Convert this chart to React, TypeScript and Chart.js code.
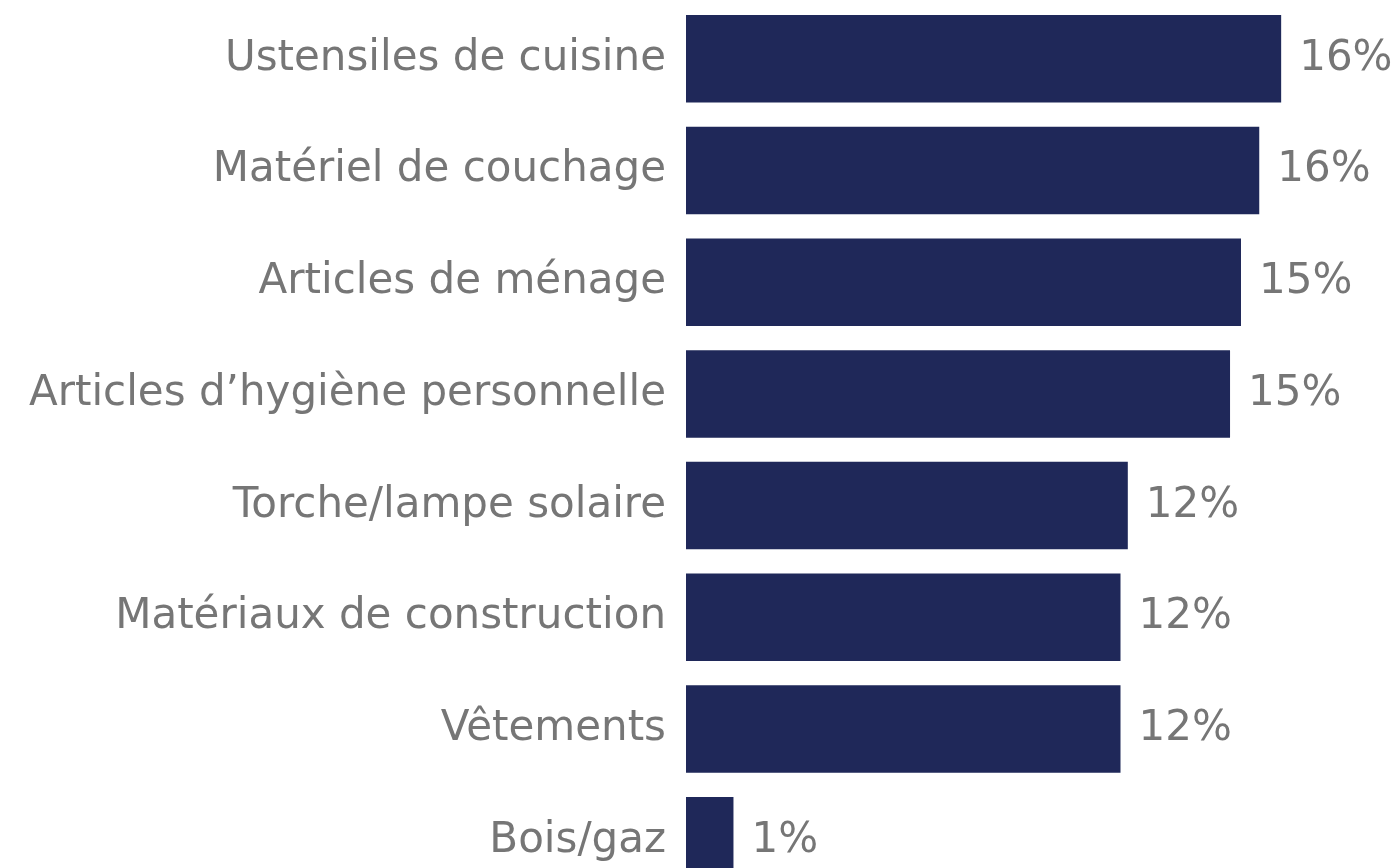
import React, { useEffect, useRef } from "react";
import { Chart, registerables } from "chart.js";

Chart.register(...registerables);

const categories = [
  "Ustensiles de cuisine",
  "Matériel de couchage",
  "Articles de ménage",
  "Articles d’hygiène personnelle",
  "Torche/lampe solaire",
  "Matériaux de construction",
  "Vêtements",
  "Bois/gaz",
];

const values = [16.3, 15.7, 15.2, 14.9, 12.1, 11.9, 11.9, 1.3];

const BAR_COLOR = "#1f2859";
const TEXT_COLOR = "#767676";
const FONT_FAMILY = "'DejaVu Sans', Verdana, sans-serif";
const FONT_SIZE = 42;

const valueLabels = {
  id: "valueLabels",
  afterDatasetsDraw(chart: any) {
    const ctx = chart.ctx;
    const meta = chart.getDatasetMeta(0);
    ctx.save();
    ctx.font = `${FONT_SIZE}px ${FONT_FAMILY}`;
    ctx.fillStyle = TEXT_COLOR;
    ctx.textAlign = "left";
    ctx.textBaseline = "middle";
    meta.data.forEach((bar: any, i: number) => {
      const v = chart.data.datasets[0].data[i] as number;
      ctx.fillText(`${Math.round(v)}%`, bar.x + 18, bar.y);
    });
    ctx.restore();
  },
};

export default function App() {
  const ref = useRef<HTMLCanvasElement>(null);

  useEffect(() => {
    document.body.style.margin = "0";
    const chart = new Chart(ref.current as HTMLCanvasElement, {
      type: "bar",
      data: {
        labels: categories,
        datasets: [
          {
            data: values,
            backgroundColor: BAR_COLOR,
            borderWidth: 0,
            barPercentage: 0.783,
            categoryPercentage: 1,
          },
        ],
      },
      options: {
        indexAxis: "y",
        animation: false,
        responsive: false,
        maintainAspectRatio: false,
        layout: { padding: { top: 2.9, bottom: 3.4, left: 0, right: 0 } },
        plugins: {
          legend: { display: false },
          tooltip: { enabled: false },
        },
        scales: {
          x: {
            display: false,
            min: 0,
            max: 19.5,
          },
          y: {
            afterFit: (scale: any) => {
              scale.width = 686;
              scale.paddingTop = 0;
              scale.paddingBottom = 0;
            },
            grid: { display: false, drawTicks: false },
            border: { display: false },
            ticks: {
              padding: 20,
              color: TEXT_COLOR,
              font: { family: FONT_FAMILY, size: FONT_SIZE },
            },
          },
        },
      },
      plugins: [valueLabels],
    });
    return () => chart.destroy();
  }, []);

  return (
    <div style={{ position: "fixed", top: 0, left: 0, width: 1398, height: 900 }}>
      <canvas ref={ref} width={1398} height={900} />
    </div>
  );
}
